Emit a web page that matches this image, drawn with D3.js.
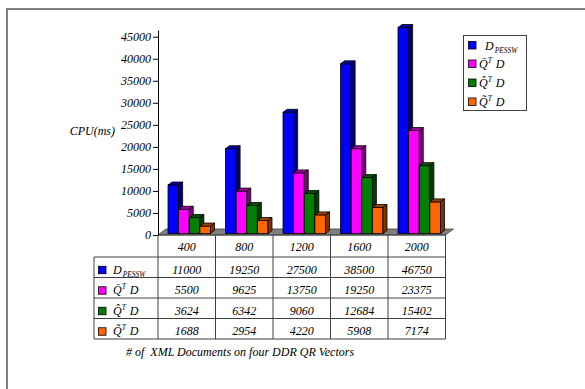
<!DOCTYPE html>
<html>
<head>
<meta charset="utf-8">
<script src="https://cdn.jsdelivr.net/npm/d3@7"></script>
<style>
  body { margin: 0; background: #fff; }
  svg text { font-family: "Liberation Serif", "Times New Roman", serif; font-style: italic; }
</style>
</head>
<body>
<div id="chart"></div>
<script>
// data
const categories = ["400", "800", "1200", "1600", "2000"];
const seriesKeys = ["dpessw", "qbar", "qhat", "qtilde"];
const dpessw = [11000, 19250, 27500, 38500, 46750];
const qbar = [5500, 9625, 13750, 19250, 23375];
const qhat = [3624, 6342, 9060, 12684, 15402];
const qtilde = [1688, 2954, 4220, 5908, 7174];
const seriesValues = [dpessw, qbar, qhat, qtilde];
const seriesColors = ["#0000ff", "#ff00ff", "#008000", "#ff6600"];
const yTicks = [0, 5000, 10000, 15000, 20000, 25000, 30000, 35000, 40000, 45000];
const xTitle = "# of  XML Documents on four DDR QR Vectors";
const yTitle = "CPU(ms)";

const W = 585, H = 389;
const svg = d3.select("#chart").append("svg")
    .attr("width", W)
    .attr("height", H);

// frame (top + left only, like the source)
svg.append("line").attr("x1", 6).attr("x2", W).attr("y1", 9).attr("y2", 9)
    .attr("stroke", "#808080").attr("stroke-width", 2);
svg.append("line").attr("x1", 7).attr("x2", 7).attr("y1", 8).attr("y2", H)
    .attr("stroke", "#808080").attr("stroke-width", 2);

const plotLeft = 158, plotRight = 445.5, y0 = 235;
const floorDx = 8, floorDy = -6;
const barDx = 4, barDy = -3;   // bar depth
const barShiftX = 1, barShiftY = -1.5;

let x = d3.scaleBand().domain(categories).range([plotLeft, plotRight]);
let xInner = d3.scaleBand().domain(seriesKeys).range([9, 51.5]);
let y = d3.scaleLinear().domain([0, 46500]).range([y0, 30.1]);

// floor
svg.append("polygon")
    .attr("points", [[plotLeft, y0], [plotRight, y0], [plotRight + floorDx, y0 + floorDy], [plotLeft + floorDx, y0 + floorDy]].join(" "))
    .attr("fill", "#808080")
    .attr("stroke", "#404040")
    .attr("stroke-width", 0.8);

// y axis
let yAxis = d3.axisLeft(y)
    .tickValues(yTicks)
    .tickFormat(d3.format("d"))
    .tickSize(5)
    .tickSizeOuter(0)
    .tickPadding(2);
let yAxisGroup = svg.append("g")
    .attr("transform", `translate(${plotLeft}, 0)`)
    .call(yAxis)
    .attr("font-family", null)
    .attr("font-size", 12);
yAxisGroup.select(".domain").attr("stroke", "#000");
yAxisGroup.selectAll(".tick line").attr("stroke", "#000");
yAxisGroup.selectAll(".tick text").attr("fill", "#000");

svg.append("text")
    .attr("x", 115)
    .attr("y", 135)
    .attr("text-anchor", "end")
    .attr("font-size", 12)
    .text(yTitle);

// bars
const bars = [];
categories.forEach((c, ci) => {
    seriesKeys.forEach((k, si) => {
        bars.push({cat: c, key: k, si: si, value: seriesValues[si][ci]});
    });
});

const barG = svg.append("g");
bars.forEach(d => {
    const bx = x(d.cat) + xInner(d.key) + barShiftX;
    const bw = xInner.bandwidth();
    const base = y(0) + barShiftY;
    const top = y(d.value) + barShiftY;
    const col = d3.color(seriesColors[d.si]);
    const g = barG.append("g");
    g.append("rect")
        .attr("x", bx).attr("y", top)
        .attr("width", bw).attr("height", base - top)
        .attr("fill", col)
        .attr("stroke", "#000").attr("stroke-width", 0.8);
    g.append("polygon")
        .attr("points", [[bx, top], [bx + barDx, top + barDy], [bx + bw + barDx, top + barDy], [bx + bw, top]].join(" "))
        .attr("fill", col.darker(1.2))
        .attr("stroke", "#000").attr("stroke-width", 0.8);
    g.append("polygon")
        .attr("points", [[bx + bw, top], [bx + bw + barDx, top + barDy], [bx + bw + barDx, base + barDy], [bx + bw, base]].join(" "))
        .attr("fill", col.darker(2))
        .attr("stroke", "#000").attr("stroke-width", 0.8);
});

// series label with accent / sup / sub
function seriesLabel(sel, si, fs) {
    if (si === 0) {
        sel.append("tspan").text("D");
        sel.append("tspan").attr("font-size", fs * 0.62).attr("dy", 3).attr("dx", 1).text("PESSW");
    } else {
        const acc = ["", "\u0304", "\u0302", "\u0303"][si];
        sel.append("tspan").text("Q" + acc);
        sel.append("tspan").attr("font-size", fs * 0.62).attr("dy", -5).text("T");
        sel.append("tspan").attr("dy", 5).attr("dx", 1).text(" D");
    }
}

// data table
const headerTop = y0, headerH = 22, rowH = 20.5, tableLeft = 94;
const tableG = svg.append("g");
const lineColor = "#404040";
const rowTops = seriesKeys.map((k, i) => headerTop + headerH + i * rowH);
const tableBottom = headerTop + headerH + seriesKeys.length * rowH;

tableG.append("line").attr("x1", plotLeft).attr("x2", plotRight)
    .attr("y1", headerTop).attr("y2", headerTop).attr("stroke", lineColor);
rowTops.concat([tableBottom]).forEach(t => {
    tableG.append("line").attr("x1", tableLeft).attr("x2", plotRight)
        .attr("y1", t).attr("y2", t).attr("stroke", lineColor);
});
tableG.append("line").attr("x1", tableLeft).attr("x2", tableLeft)
    .attr("y1", rowTops[0]).attr("y2", tableBottom).attr("stroke", lineColor);
categories.forEach(c => {
    tableG.append("line").attr("x1", x(c)).attr("x2", x(c))
        .attr("y1", headerTop).attr("y2", tableBottom).attr("stroke", lineColor);
});
tableG.append("line").attr("x1", plotRight).attr("x2", plotRight)
    .attr("y1", headerTop).attr("y2", tableBottom).attr("stroke", lineColor);

tableG.selectAll(".hdr").data(categories).enter().append("text")
    .attr("class", "hdr")
    .attr("x", d => x(d) + x.bandwidth() / 2)
    .attr("y", headerTop + headerH / 2 + 5)
    .attr("text-anchor", "middle")
    .attr("font-size", 12)
    .text(d => d);

seriesKeys.forEach((k, si) => {
    const cy = rowTops[si] + rowH / 2;
    tableG.append("rect")
        .attr("x", 98.5).attr("y", cy - 1)
        .attr("width", 7.5).attr("height", 7.5)
        .attr("fill", seriesColors[si])
        .attr("stroke", "#000").attr("stroke-width", 0.8);
    const t = tableG.append("text")
        .attr("x", 113).attr("y", cy + 6.5)
        .attr("font-size", 12);
    seriesLabel(t, si, 12);
    categories.forEach((c, ci) => {
        tableG.append("text")
            .attr("x", x(c) + x.bandwidth() / 2)
            .attr("y", cy + 6.5)
            .attr("text-anchor", "middle")
            .attr("font-size", 12)
            .text(seriesValues[si][ci]);
    });
});

svg.append("text")
    .attr("x", 126)
    .attr("y", 356)
    .attr("font-size", 12)
    .style("white-space", "pre")
    .attr("xml:space", "preserve")
    .text(xTitle);

// legend
const legend = svg.append("g");
legend.append("rect")
    .attr("x", 463.5).attr("y", 35.5)
    .attr("width", 63).attr("height", 75)
    .attr("fill", "#fff")
    .attr("stroke", lineColor);
const legendY = [45.5, 64, 83, 102];
seriesKeys.forEach((k, si) => {
    legend.append("rect")
        .attr("x", 468.5).attr("y", legendY[si] - 4)
        .attr("width", 7.5).attr("height", 7.5)
        .attr("fill", seriesColors[si])
        .attr("stroke", "#000").attr("stroke-width", 0.8);
    const t = legend.append("text")
        .attr("x", si === 0 ? 485 : 479)
        .attr("y", legendY[si] + 4)
        .attr("font-size", 12);
    seriesLabel(t, si, 12);
});
</script>
</body>
</html>
